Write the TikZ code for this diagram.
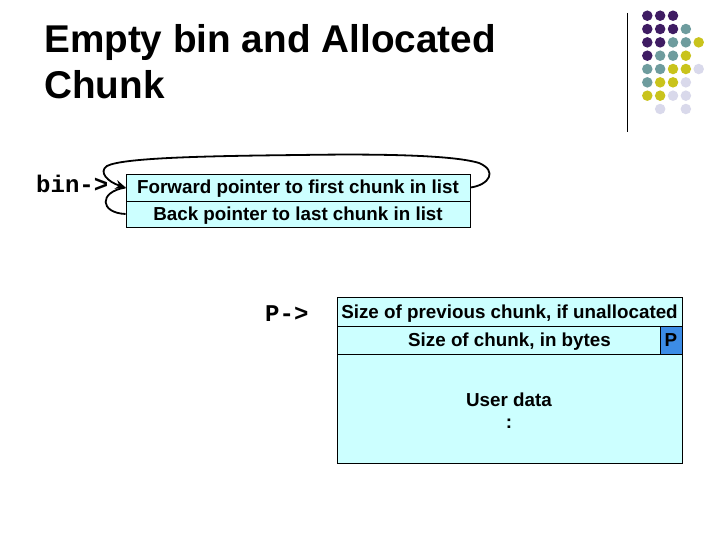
\documentclass[tikz,border=0pt]{standalone}
\usepackage{fontspec}
\setmainfont{Liberation Sans}
\newfontfamily\monofont{Liberation Mono}
\usetikzlibrary{arrows.meta}
\definecolor{dpurple}{HTML}{3F1C63}
\definecolor{dteal}{HTML}{6E9C9E}
\definecolor{dyellow}{HTML}{C9C31C}
\definecolor{dlav}{HTML}{D9D9EB}
\definecolor{cellfill}{HTML}{CCFFFF}
\definecolor{pfill}{HTML}{3C8CE6}
\tikzset{
  cell/.style={draw=black, line width=0.9pt, fill=cellfill, inner sep=0pt,
    text height=13pt, text depth=0pt,
    font=\bfseries\fontsize{18.8}{21}\selectfont, text=black},
  dot/.style={circle, inner sep=0pt, minimum size=10.5pt},
  ptrlabel/.style={font=\monofont\bfseries\fontsize{24}{26}\selectfont, inner sep=0pt, anchor=base west},
  ptr/.style={line width=1.8pt, black},
  titletext/.style={anchor=base west, inner sep=0pt, font=\bfseries\fontsize{38.7}{44}\selectfont},
}
\begin{document}
\begin{tikzpicture}[x=1pt,y=-1pt]
\useasboundingbox (0,0) rectangle (720,540);
\fill[white] (0,0) rectangle (720,540);
% title
\node[titletext] (t1) at (44,53) {Empty bin and Allocated};
\node[titletext] (t2) at (44,99) {Chunk};
% vertical rule
\draw[line width=1pt, black] (627,13) -- (627,132);
% dots
\foreach \c/\r/\col in {0/0/dpurple,1/0/dpurple,2/0/dpurple,
  0/1/dpurple,1/1/dpurple,2/1/dpurple,3/1/dteal,
  0/2/dpurple,1/2/dpurple,2/2/dteal,3/2/dteal,4/2/dyellow,
  0/3/dpurple,1/3/dteal,2/3/dteal,3/3/dyellow,
  0/4/dteal,1/4/dteal,2/4/dyellow,3/4/dyellow,4/4/dlav,
  0/5/dteal,1/5/dyellow,2/5/dyellow,3/5/dlav,
  0/6/dyellow,1/6/dyellow,2/6/dlav,3/6/dlav,
  1/7/dlav,3/7/dlav}
  \node[dot, fill=\col] (d\c\r) at ({647.3+12.85*\c},{15.7+13.33*\r}) {};
% bin
\node[ptrlabel] (binlbl) at (36,193) {bin->};
\node[cell, minimum width=344pt, minimum height=27pt] (fw) at (298,187.5) {Forward pointer to first chunk in list};
\node[cell, minimum width=344pt, minimum height=26pt] (bk) at (298,214) {Back pointer to last chunk in list};
\draw[ptr, -{Stealth[length=10pt,width=9pt]}] (fw.east)
  .. controls (489,185) and (498,171) .. (479,163)
  .. controls (450,154) and (360,154) .. (300,155)
  .. controls (200,156) and (122,158) .. (107,166)
  .. controls (98,172) and (108,182) .. (fw.west);
\draw[ptr] (bk.west) .. controls (100,213) and (98,192) .. (fw.west);
% allocated chunk
\node[ptrlabel] (plbl) at (265,321) {P->};
\node[cell, minimum width=345pt, minimum height=29pt] (s1) at (509.5,311.5) {Size of previous chunk, if unallocated};
\node[cell, minimum width=345pt, minimum height=28pt] (s2) at (509.5,340) {Size of chunk, in bytes};
\node[cell, fill=pfill, minimum width=22pt, minimum height=28pt] (pb) at (671,340) {P};
\node[cell, minimum width=345pt, minimum height=109pt, text height=0pt] (ud) at (509.5,408.5) {};
\node[font=\bfseries\fontsize{18.8}{22}\selectfont, align=center, inner sep=0pt] (udt) at (509,411) {User data\\:};
\end{tikzpicture}
\end{document}
